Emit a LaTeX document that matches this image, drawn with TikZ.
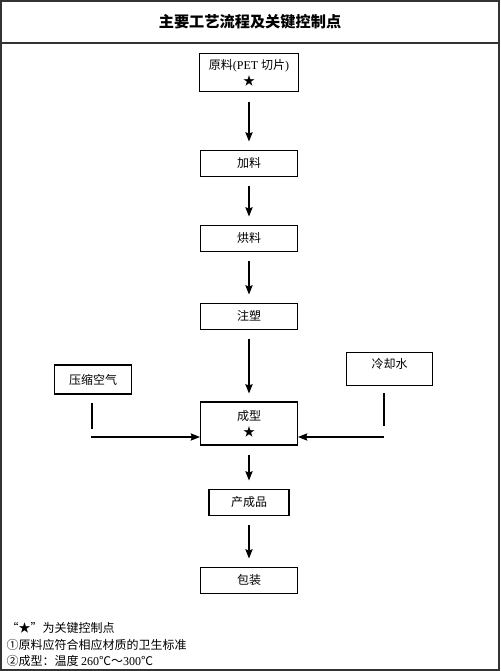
\documentclass[tikz,border=0pt]{standalone}
\usepackage{fontspec}
\setmainfont{Liberation Serif}
\newfontfamily\cjk{Noto Sans CJK SC}
\usetikzlibrary{arrows.meta,positioning}

\begin{document}
\begin{tikzpicture}[x=0.75pt,y=-0.75pt,>={Stealth[length=7pt,width=5.5pt,inset=1pt]},on grid,thick,font=\cjk\fontsize{9}{12}\selectfont]
\tikzstyle{box} = [rectangle,draw=black,minimum width=72.75pt,minimum height=19.5pt,inner sep=1pt]
\tikzstyle{bigbox} = [box,minimum height=29pt,align=center]
\tikzstyle{note} = [anchor=west,inner sep=0pt]
    \useasboundingbox (0,0) rectangle (500,671);
    \draw[line width=1pt,black!80] (1,1) rectangle (499,670);
    \draw[line width=1pt,black!80] (1,43) -- (499,43);
    \node (title) at (250,22) {\fontsize{11.4}{14}\selectfont\bfseries 主要工艺流程及关键控制点};

    % main column
    \node[bigbox,minimum width=74pt] (raw) at (249,72.5) {原料{\rmfamily(PET }切片{\rmfamily)}\\★};
    \node[box] (feed) [below=67.9pt of raw] {加料};
    \node[box] (dry) [below=56.25pt of feed] {烘料};
    \node[box] (inject) [below=58.5pt of dry] {注塑};
    \node[bigbox,minimum height=32.25pt] (mold) [below=80.6pt of inject] {成型\\★};
    \node[box,minimum width=60pt] (prod) [below=58.9pt of mold] {产成品};
    \node[box] (pack) [below=58.5pt of prod] {包装};

    % side inputs
    \node[box,minimum width=57.75pt,minimum height=21.75pt] (air) [above left=33pt and 117pt of mold] {压缩空气};
    \node[box,minimum width=64.5pt,minimum height=24.75pt,text depth=9pt] (cool) [above right=40.9pt and 105.4pt of mold] {冷却水};
    \coordinate (airtop) at (92,403);
    \coordinate (airbot) at (92,429);
    \coordinate (airin) at (91,437);
    \coordinate (cooltop) at (384,393);
    \coordinate (coolbot) at (384,426);
    \coordinate (coolin) at (384,437);

    \tikzset{flow/.style={->,shorten <=7pt,shorten >=6pt}}
    \draw (raw) edge [flow] (feed);
    \draw (feed) edge [flow] (dry);
    \draw (dry) edge [flow] (inject);
    \draw (inject) edge [flow] (mold);
    \draw (mold) edge [flow] (prod);
    \draw (prod) edge [flow] (pack);
    \draw (airtop) -- (airbot);
    \draw (cooltop) -- (coolbot);
    \draw[->] (airin) -- (airin -| mold.west);
    \draw[->] (coolin) -- (coolin -| mold.east);

    % notes
    \node[note] (n1) at (6,628) {“★”为关键控制点};
    \node[note] (n2) at (6,645) {①原料应符合相应材质的卫生标准};
    \node[note] (n3) at (6,661) {②成型：温度 {\rmfamily 260}℃～{\rmfamily 300}℃};
\end{tikzpicture}
\end{document}
